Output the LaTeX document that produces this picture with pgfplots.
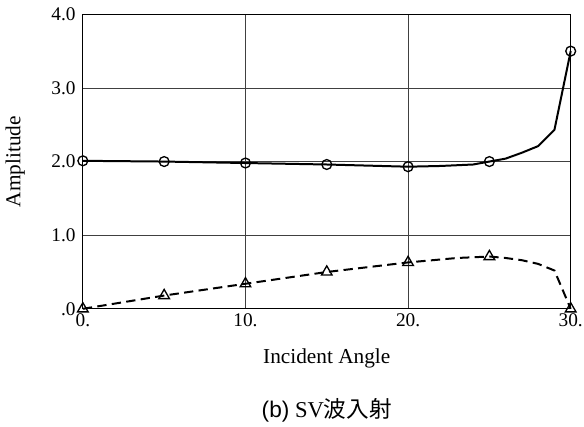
\documentclass[border=0pt]{standalone}
\usepackage{pgfplots}
\pgfplotsset{compat=1.18}
\usepackage{fontspec}
\setmainfont{Liberation Serif}
\newfontfamily\sansf{Liberation Sans}
\newfontfamily\cjk{Noto Sans CJK JP}

% amplitude of the reflected waves for an incident SV wave
\pgfplotstableread{
x y
0 2.01
5 2.00
10 1.98
15 1.96
20 1.93
22 1.94
24 1.96
25 2.00
26 2.04
27 2.12
28 2.21
29 2.43
30 3.50
}\solidcurve
\pgfplotstableread{
x y
0 2.01
5 2.00
10 1.98
15 1.96
20 1.93
25 2.00
30 3.50
}\solidmarks
\pgfplotstableread{
x y
0 0.00
5 0.18
10 0.34
15 0.50
20 0.63
21 0.65
23 0.69
25 0.71
26 0.69
27 0.66
28 0.61
29 0.52
30 0.00
}\dashedcurve
\pgfplotstableread{
x y
0 0.00
5 0.18
10 0.34
15 0.50
20 0.63
25 0.71
30 0.00
}\dashedmarks

\begin{document}
\begin{tikzpicture}
% fixed page frame around the axis box (which sits at the origin)
\useasboundingbox (-62.25pt,-88.5pt) rectangle (376.5pt,232pt);
\begin{axis}[
  at={(0,0)}, anchor=south west,
  scale only axis,
  width=366.5pt, height=221.25pt,
  xmin=0, xmax=30, ymin=0, ymax=4,
  xtick={0,10,20,30},
  xticklabels={0.,10.,20.,30.},
  ytick={0,1,2,3,4},
  yticklabels={.0,1.0,2.0,3.0,4.0},
  /pgf/number format/assume math mode=true,
  tick label style={font=\fontsize{14.5}{16}\selectfont},
  major tick length=0pt,
  grid=major,
  major grid style={black!75, line width=0.6pt},
  axis line style={black, line width=0.9pt},
  yticklabel style={xshift=-2pt},
  xlabel={Incident Angle},
  ylabel={Amplitude},
  label style={font=\fontsize{16}{18}\selectfont},
  xlabel style={yshift=-10pt},
  ylabel style={yshift=13pt},
  clip=false,
]
\addplot[black, line width=1.5pt] table {\solidcurve};
\addplot[only marks, mark=o, mark size=3.7pt, mark options={black, line width=1pt, fill=none}] table {\solidmarks};
\addplot[black, line width=1.5pt, dash pattern=on 7pt off 4pt] table {\dashedcurve};
\addplot[only marks, mark=triangle, mark size=4.6pt, mark options={black, line width=1pt, fill=none}] table {\dashedmarks};
\end{axis}
\node[font=\fontsize{17}{19}\selectfont] at (183.25pt,-76pt) {{\sansf (b)} SV{\cjk 波入射}};
\end{tikzpicture}
\end{document}
